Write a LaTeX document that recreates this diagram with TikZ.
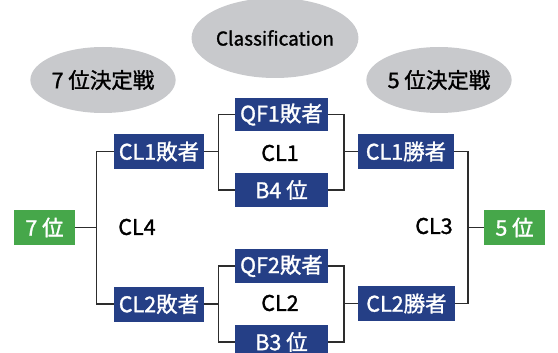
\documentclass[tikz,border=0pt]{standalone}
\usepackage{fontspec}
\setmainfont{Noto Sans CJK JP}[FakeBold=1.3]
\definecolor{navy}{RGB}{37,63,134}
\definecolor{rankgreen}{RGB}{70,167,74}
\definecolor{bubble}{RGB}{200,201,204}
\definecolor{wire}{RGB}{45,45,45}
\tikzset{
  team/.style={fill=navy, text=white, inner sep=0pt, minimum height=35pt},
  rank/.style={fill=rankgreen, text=white, inner sep=0pt, minimum width=61pt, minimum height=35pt},
  round/.style={fill=bubble, ellipse, inner sep=0pt},
  wire/.style={draw=wire, line width=1.4pt}
}
\usetikzlibrary{shapes.geometric}
\begin{document}
\begin{tikzpicture}[x=1pt, y=-1pt, font=\fontsize{21.5}{25}\selectfont]
    \useasboundingbox (0,0) rectangle (558,353);

    % Nodes
    \node at (275, 38) (cls) [round, minimum width=144pt, minimum height=80pt, font=\fontsize{19}{23}\selectfont] {Classification};
    \node at (103, 80) (final7) [round, minimum width=122pt, minimum height=66pt] {7 位決定戦};
    \node at (439, 80) (final5) [round, minimum width=122pt, minimum height=66pt] {5 位決定戦};

    \node at (44.5, 227.5) (p7) [rank] {7 位};
    \node at (514.5, 227.5) (p5) [rank] {5 位};

    \node at (159, 151.5) (cl1l) [team, minimum width=90pt] {CL1敗者};
    \node at (159, 304) (cl2l) [team, minimum width=90pt] {CL2敗者};
    \node at (281.5, 114.5) (qf1) [team, minimum width=93pt, minimum height=33pt] {QF1敗者};
    \node at (281.5, 190) (b4) [team, minimum width=93pt, minimum height=34pt] {B4 位};
    \node at (281.5, 266) (qf2) [team, minimum width=93pt, minimum height=34pt] {QF2敗者};
    \node at (281.5, 342) (b3) [team, minimum width=93pt, minimum height=34pt] {B3 位};
    \node at (406, 151.5) (cl1w) [team, minimum width=96pt] {CL1勝者};
    \node at (406.5, 303.5) (cl2w) [team, minimum width=97pt] {CL2勝者};

    \node at (280, 153) (cl1) {CL1};
    \node at (280, 303) (cl2) {CL2};
    \node at (137, 227) (cl4) {CL4};
    \node at (434, 226) (cl3) {CL3};

    % Brackets
    \draw[wire] (cl1l.east) -- ++(14,0) coordinate (j1);
    \draw[wire] (qf1.west) -| (j1) |- (b4.west);
    \draw[wire] (cl2l.east) -- ++(14,0) coordinate (j2);
    \draw[wire] (qf2.west) -| (j2) |- (b3.west);
    \draw[wire] (cl1w.west) -- ++(-14,0) coordinate (j3);
    \draw[wire] (qf1.east) -| (j3) |- (b4.east);
    \draw[wire] (cl2w.west) -- ++(-14,0) coordinate (j4);
    \draw[wire] (qf2.east) -| (j4) |- (b3.east);
    \draw[wire] (p7.east) -- ++(21,0) coordinate (j7);
    \draw[wire] (cl1l.west) -| (j7) |- (cl2l.west);
    \draw[wire] (p5.west) -- ++(-16,0) coordinate (j5);
    \draw[wire] (cl1w.east) -| (j5) |- (cl2w.east);

\end{tikzpicture}
\end{document}
